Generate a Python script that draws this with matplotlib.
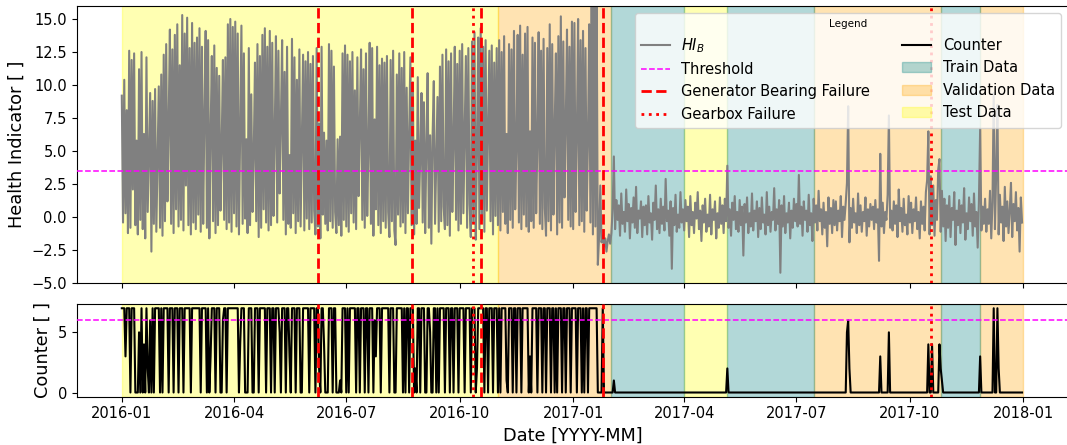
"""Health indicator HI_B and alarm counter over 2016-2017 with train/validation/test
periods and the recorded component failures."""

import matplotlib

matplotlib.use("Agg")
import matplotlib.dates as mdates  # noqa: E402
import matplotlib.pyplot as plt  # noqa: E402
import pandas as pd  # noqa: E402
from matplotlib.lines import Line2D  # noqa: E402
from matplotlib.patches import Patch  # noqa: E402
from matplotlib.ticker import MultipleLocator  # noqa: E402

# ---------- Data (daily samples) ----------
START_DATE = "2016-01-01"

# HI_B, one row per month, 2016-01 .. 2017-01
HI_B_DEGRADED = [
    9.2, -0.4, 10.4, 0.3, 8.1, -1.2, 12.6, -0.8, 11.9, 2.1, 12.4, -0.6, 5.8, -1.3, 11.2, -0.2, 12.5, -0.9, 6.3, -1.6, 12.1, 0.4, 4.9, 9.4, -2.6, 8.8, -0.5, 9.7, -1.1, 4.2, 9.9,
    -0.8, 10.8, -1.4, 12.3, -0.3, 13.1, 1.2, 7.1, 14.2, -0.5, 12.7, -1.2, 13.8, 0.6, 14.6, -0.7, 11.5, -0.2, 15.3, -1.0, 13.9, 2.4, 15.1, -0.6, 12.8, -1.3, 14.7, -0.4, 13.2,
    -0.9, 13.6, 0.2, 14.3, -1.1, 12.9, -0.5, 7.8, 14.1, -0.8, 13.4, -1.6, 6.3, 12.2, -0.3, 13.0, -1.2, 11.3, -0.6, 10.7, 0.5, 5.4, 11.9, -0.2, 12.1, -0.9, 14.6, -0.4, 15.0, -1.1, 14.4,
    0.3, 14.8, -0.7, 13.9, -1.3, 6.6, 14.5, -0.5, 12.4, -0.1, 5.9, -1.2, 12.8, -0.6, 9.3, 0.4, 4.8, 11.7, -0.3, 13.1, -1.5, 12.2, -0.8, 13.8, 0.6, 14.3, -0.4, 12.9, -1.0, 14.1,
    -0.6, 13.2, 0.1, 6.2, 13.7, -0.4, 12.6, 1.8, 7.3, 13.4, -0.2, 11.0, -1.3, 12.9, -0.5, 4.7, -0.8, 13.5, 0.3, 12.1, -1.2, 10.4, -0.3, 12.7, -0.7, 5.6, 12.3, -1.0, 11.8, -0.1, 12.5,
    -0.9, 11.6, -0.4, 12.2, 0.5, -1.3, 12.8, -0.7, 7.1, -1.6, 12.9, 0.2, 6.4, -0.5, 5.8, -1.0, 13.1, -0.3, 12.6, -0.8, 11.4, 0.4, -1.2, 5.9, -0.6, 6.1, -1.4, 12.4, -0.2, 13.0,
    -0.7, 12.3, -1.1, 11.8, 0.3, 12.5, -0.4, 9.6, -0.9, 12.1, 1.6, 6.8, 12.7, -0.2, 11.2, -0.8, 12.4, 0.1, 5.2, 13.2, -0.5, 12.8, -1.4, 7.4, 0.6, 12.9, -0.6, 11.5, -1.2, 12.0, -0.3,
    11.7, -0.8, 12.2, 0.4, -1.5, 11.9, -0.3, 12.6, -1.0, -2.1, 10.8, 0.2, 12.4, -0.7, 11.3, -0.4, 12.5, -1.2, 9.8, 0.3, 6.1, 12.1, -0.6, 10.2, -1.3, 5.8, -0.5, 10.6, 0.7, 4.6, 9.4,
    -0.4, 8.7, -1.2, 5.5, 10.9, -0.8, 6.2, -2.0, 6.1, 10.3, -0.5, 4.2, 9.1, -1.1, 11.4, -0.3, 12.3, 0.8, -0.9, 12.7, -0.6, 11.8, -1.4, 12.4, 0.4, 5.7, 12.9, -0.2, 11.6, -1.0,
    12.6, -0.5, 13.1, 0.3, 6.2, 12.2, -0.8, 12.8, 1.0, -1.5, 13.3, -0.4, 14.0, -1.7, 5.2, 13.6, -0.9, 14.3, -0.2, 12.9, -1.1, 13.4, 0.5, 6.7, 12.6, -0.3, 13.0, -1.3, 11.7, 0.1, 12.8,
    -0.6, 13.4, -1.0, 12.5, 0.4, 13.7, -0.5, 6.3, -1.2, 13.1, -0.2, 12.7, -0.8, 14.1, 0.6, 5.3, 13.8, -0.4, 14.5, -0.9, 12.3, 0.2, 13.9, -0.7, 14.4, -1.1, 6.5, -0.3, 13.6, -0.8,
    13.2, 0.3, 5.8, 14.0, -0.5, 12.6, -0.9, 13.5, 0.7, -1.4, 12.8, -0.3, 14.6, -1.0, 13.1, 0.2, 6.6, 12.4, -1.3, 13.7, -0.4, 15.2, -0.8, 13.3, 1.5, 7.1, 14.2, -0.2, 12.9, -0.7, 14.8,
    -0.9, 14.7, 0.4, 6.2, 15.0, -0.6, 13.4, -0.3, 14.1, -1.1, 12.8, 0.5, 5.8, 14.6, -0.4, 18.5, -1.3, 16.9, -0.7, 17.8, -3.6, -1.5, 2.4, -1.9, -1.4, -2.2, -1.6, -2.6, -1.8, -1.3, -2.0,
]

# HI_B after the last generator repair, 2017-02 .. 2017-12
HI_B_REPAIRED = [
    -1.2, 0.6, 4.6, -0.9, 1.3, -0.2, 0.9, -1.4, 1.8, -0.5, 0.4, -1.1, 2.1, -0.3, 1.0, -1.6, 0.7, -0.4, 1.5, -0.8, 2.3, -1.2, 0.5, -0.1, 1.2, -1.5, 0.8, -0.6,
    0.9, -1.3, 1.6, -0.4, 0.3, -1.7, 1.1, -0.2, 2.4, -0.9, 0.6, -1.2, 1.4, -0.5, 0.8, -1.0, 2.9, -0.3, 0.5, -1.4, 1.2, -3.9, 0.7, -0.6, 1.7, -1.1, 0.2, -0.8, 1.9, -0.4, 0.6,
    -1.0, 1.3, -0.3, 0.8, -1.5, 1.6, -0.6, 0.4, -1.2, 1.1, -0.1, 1.9, -0.9, 0.5, -1.8, 0.9, -0.4, 1.4, -1.1, 0.2, -0.7, 1.7, -1.3, 0.6, -0.2, 1.2, -1.6, 0.3, -0.8, 1.5,
    -0.5, 0.9, -1.2, 1.4, -0.3, 3.9, -0.8, 0.6, -1.4, 1.1, -0.2, 1.6, -0.9, 0.4, -1.1, 1.3, -0.6, 0.8, -2.9, 1.0, -0.4, 1.5, -1.2, 0.3, -0.7, 1.8, -1.0, 0.5, -0.3, 1.2, -1.5,
    0.7, -0.9, 1.5, -0.4, 0.2, -1.3, 1.9, -0.6, 0.8, -1.1, 0.4, -0.2, 2.2, -1.0, 0.6, -0.5, 1.3, -4.2, 0.9, -0.7, 1.6, -1.2, 0.3, -0.4, 1.1, -1.6, 0.5, -0.8, 1.4, -0.3,
    1.0, -0.7, 3.2, -0.5, 0.8, -1.4, 1.2, -0.2, 0.5, -1.1, 1.7, -0.6, 0.3, -1.8, 1.4, -0.4, 0.9, -1.0, 2.0, -0.3, 0.6, -1.3, 1.1, -0.8, 0.4, -2.2, 1.5, -0.5, 0.7, -1.2, 1.3,
    -0.6, 1.2, -1.0, 0.5, -0.3, 1.6, -1.5, 0.8, -0.2, 1.1, 2.6, 8.4, -1.9, 0.7, -0.8, 1.4, -0.4, 0.3, -1.2, 1.8, -0.6, 0.9, -1.1, 0.4, -0.3, 1.5, -1.4, 0.6, -0.7, 1.0, -0.2,
    0.8, -0.9, 1.3, -0.4, 0.6, -3.3, 4.8, -0.7, 1.1, -1.2, 0.4, -0.2, 1.7, 7.7, -0.8, 0.5, -1.0, 1.2, -0.5, 0.9, -1.5, 2.1, -0.3, 0.7, -1.1, 1.4, -0.6, 0.2, -1.3, 1.6,
    -0.4, 1.1, -1.2, 0.6, -0.3, 1.5, -0.9, 0.4, -1.6, 1.2, -0.5, 0.8, -1.0, 1.9, 2.8, 6.5, -1.3, 3.1, -0.6, 2.4, -1.4, 1.3, -0.2, 3.6, 4.4, -1.1, 2.0, -0.7, 1.4, -1.8, 0.9,
    -0.8, 1.6, -1.5, 0.7, -0.2, 1.9, -2.1, 0.5, -0.6, 1.3, -1.2, 0.9, -0.4, 2.2, -1.7, 0.3, -0.9, 1.5, -0.3, 1.0, -1.4, 1.8, -0.7, 0.4, -2.3, 1.2, 6.7, -1.0, 0.8, -0.5,
    1.4, -1.1, 0.6, -0.5, 2.0, -1.6, 1.1, 9.4, -0.9, 3.3, 8.5, -1.3, 1.7, -0.4, 0.8, -1.8, 2.3, -0.7, 1.2, -1.2, 0.5, 2.6, -1.5, 1.0, -0.3, 1.9, -1.0, 0.7, -2.6, 1.5, -0.4,
]

# Counter, one row per month, 2016-01 .. 2017-01
COUNTER_DEGRADED = [
    7, 7, 7, 3, 7, 7, 7, 0, 7, 7, 7, 0, 0, 0, 5, 0, 7, 0, 4, 0, 7, 2, 0, 6, 0, 7, 0, 7, 7, 7, 7,
    0, 7, 0, 7, 7, 7, 7, 0, 7, 7, 7, 0, 7, 7, 7, 0, 7, 7, 7, 0, 7, 7, 7, 7, 7, 0, 7, 7, 7,
    7, 7, 7, 7, 0, 7, 7, 7, 7, 0, 7, 0, 3, 7, 7, 7, 0, 7, 7, 7, 0, 0, 6, 7, 7, 0, 7, 7, 7, 7, 7,
    7, 7, 7, 7, 0, 4, 7, 7, 7, 0, 0, 0, 7, 7, 7, 0, 0, 7, 7, 7, 0, 7, 7, 7, 7, 7, 0, 7, 7, 7,
    0, 7, 7, 0, 7, 7, 7, 5, 0, 7, 7, 7, 0, 7, 7, 3, 0, 7, 7, 7, 0, 7, 7, 7, 0, 0, 7, 7, 7, 7, 7,
    0, 7, 7, 7, 7, 0, 7, 7, 2, 0, 7, 7, 4, 0, 0, 0, 7, 7, 7, 0, 7, 7, 0, 0, 0, 1, 0, 7, 7, 7,
    0, 7, 0, 7, 7, 7, 7, 7, 0, 7, 7, 0, 7, 7, 7, 0, 7, 7, 0, 7, 7, 7, 0, 6, 3, 7, 7, 7, 0, 7, 7,
    7, 7, 7, 7, 0, 7, 7, 7, 0, 0, 7, 7, 7, 7, 7, 0, 7, 0, 7, 7, 0, 7, 7, 7, 0, 2, 0, 7, 7, 0, 7,
    7, 7, 0, 0, 7, 7, 5, 0, 0, 7, 7, 0, 7, 0, 7, 7, 7, 7, 0, 7, 7, 7, 0, 7, 7, 0, 7, 7, 7, 0,
    7, 7, 7, 7, 0, 7, 7, 7, 7, 0, 7, 7, 7, 0, 2, 7, 7, 7, 7, 7, 0, 7, 7, 0, 7, 7, 7, 0, 7, 7, 7,
    0, 7, 0, 7, 7, 7, 7, 1, 0, 7, 7, 7, 0, 7, 7, 0, 7, 7, 7, 0, 7, 7, 7, 7, 7, 0, 3, 0, 7, 7,
    7, 7, 0, 7, 7, 7, 0, 7, 7, 0, 7, 7, 7, 0, 7, 7, 0, 7, 0, 7, 7, 7, 0, 7, 7, 0, 7, 7, 7, 0, 7,
    7, 7, 7, 0, 7, 7, 7, 0, 7, 0, 7, 7, 0, 7, 7, 7, 7, 7, 7, 7, 0, 0, 0, 0, 7, 0, 0, 0, 0, 0, 0,
]

# Counter after repair: zero except on these days
COUNTER_SPIKE_DATES = [
    "2017-02-03", "2017-05-06", "2017-08-11", "2017-08-12", "2017-08-13",
    "2017-09-07", "2017-09-14", "2017-10-16", "2017-10-19", "2017-10-25",
    "2017-10-26", "2017-10-27", "2017-11-27", "2017-12-08", "2017-12-11",
    "2017-12-12",
]
COUNTER_SPIKE_VALUES = [1, 2, 5, 6, 2, 3, 5, 4, 4, 4, 2, 1, 3, 7, 7, 2]

HI_THRESHOLD = 3.5
COUNTER_THRESHOLD = 6

GEN_BEARING_FAILURES = ["2016-06-08", "2016-08-23", "2016-10-18", "2017-01-25"]
GEARBOX_FAILURES = ["2016-10-12", "2017-10-18"]

TRAIN_PERIODS = [("2017-02-01", "2017-04-01"), ("2017-05-06", "2017-07-15"),
                 ("2017-10-26", "2017-11-27")]
VALIDATION_PERIODS = [("2016-11-01", "2017-02-01"), ("2017-07-15", "2017-10-26"),
                      ("2017-11-27", "2018-01-01")]
TEST_PERIODS = [("2016-01-01", "2016-11-01"), ("2017-04-01", "2017-05-06")]

# ---------- Style ----------
HI_COLOR = "grey"
COUNTER_COLOR = "black"
THRESHOLD_COLOR = "magenta"
FAILURE_COLOR = "red"
SPAN_COLORS = {"train": "teal", "validation": "orange", "test": "yellow"}
SPAN_ALPHA = 0.3

TICK_SIZE = 10.5
LABEL_SIZE = 12.8


def _shade_periods(ax):
    for key, periods in (("test", TEST_PERIODS), ("validation", VALIDATION_PERIODS),
                         ("train", TRAIN_PERIODS)):
        for start, end in periods:
            ax.axvspan(pd.Timestamp(start), pd.Timestamp(end),
                       color=SPAN_COLORS[key], alpha=SPAN_ALPHA, zorder=0)


def _mark_failures(ax):
    for d in GEN_BEARING_FAILURES:
        ax.axvline(pd.Timestamp(d), color=FAILURE_COLOR, linestyle="--", linewidth=2, zorder=4)
    for d in GEARBOX_FAILURES:
        ax.axvline(pd.Timestamp(d), color=FAILURE_COLOR, linestyle=":", linewidth=2, zorder=4)


def main():
    hi = HI_B_DEGRADED + HI_B_REPAIRED
    dates = pd.date_range(START_DATE, periods=len(hi), freq="D")
    hi_series = pd.Series(hi, index=dates)

    counter = pd.Series(0.0, index=dates)
    counter.iloc[:len(COUNTER_DEGRADED)] = COUNTER_DEGRADED
    counter.loc[pd.to_datetime(COUNTER_SPIKE_DATES)] = COUNTER_SPIKE_VALUES

    fig = plt.figure(figsize=(10.67, 4.45), dpi=100)
    # right edge sits just past the canvas, as in the cropped export
    gs = fig.add_gridspec(2, 1, height_ratios=[277.6, 92.7], hspace=0.112,
                          left=0.0719, right=1.0013, top=0.987, bottom=0.1085)
    ax1 = fig.add_subplot(gs[0])
    ax2 = fig.add_subplot(gs[1], sharex=ax1)

    # Top panel: health indicator
    _shade_periods(ax1)
    ax1.plot(hi_series.index, hi_series.values, color=HI_COLOR, linewidth=1.5, zorder=2)
    ax1.axhline(HI_THRESHOLD, color=THRESHOLD_COLOR, linestyle="--", linewidth=1.1, zorder=3)
    _mark_failures(ax1)
    ax1.set_ylim(-5, 16)
    ax1.yaxis.set_major_locator(MultipleLocator(2.5))
    ax1.set_ylabel("Health Indicator [ ]", fontsize=LABEL_SIZE)
    ax1.tick_params(labelsize=TICK_SIZE)
    plt.setp(ax1.get_xticklabels(), visible=False)

    # Bottom panel: counter
    _shade_periods(ax2)
    ax2.plot(counter.index, counter.values, color=COUNTER_COLOR, linewidth=1.5, zorder=2)
    ax2.axhline(COUNTER_THRESHOLD, color=THRESHOLD_COLOR, linestyle="--", linewidth=1.1, zorder=3)
    _mark_failures(ax2)
    ax2.set_yticks([0, 5])
    ax2.set_ylabel("Counter [ ]", fontsize=LABEL_SIZE)
    ax2.set_xlabel("Date [YYYY-MM]", fontsize=LABEL_SIZE)
    ax2.tick_params(labelsize=TICK_SIZE)
    ax2.xaxis.set_major_locator(mdates.MonthLocator(bymonth=[1, 4, 7, 10]))
    ax2.xaxis.set_major_formatter(mdates.DateFormatter("%Y-%m"))

    handles = [
        Line2D([], [], color=HI_COLOR, linewidth=1.5),
        Line2D([], [], color=THRESHOLD_COLOR, linestyle="--", linewidth=1.1),
        Line2D([], [], color=FAILURE_COLOR, linestyle="--", linewidth=2),
        Line2D([], [], color=FAILURE_COLOR, linestyle=":", linewidth=2),
        Line2D([], [], color=COUNTER_COLOR, linewidth=1.5),
        Patch(facecolor=SPAN_COLORS["train"], edgecolor=SPAN_COLORS["train"], alpha=SPAN_ALPHA),
        Patch(facecolor=SPAN_COLORS["validation"], edgecolor=SPAN_COLORS["validation"], alpha=SPAN_ALPHA),
        Patch(facecolor=SPAN_COLORS["test"], edgecolor=SPAN_COLORS["test"], alpha=SPAN_ALPHA),
    ]
    labels = ["$HI_B$", "Threshold", "Generator Bearing Failure", "Gearbox Failure",
              "Counter", "Train Data", "Validation Data", "Test Data"]
    leg = ax1.legend(handles, labels, loc="upper right", ncol=2, fontsize=10.5,
                     title="Legend", title_fontsize=7.5, columnspacing=2.2)
    leg.set_zorder(10)

    fig.savefig("out.png", dpi=100)
    plt.close(fig)


if __name__ == "__main__":
    main()
